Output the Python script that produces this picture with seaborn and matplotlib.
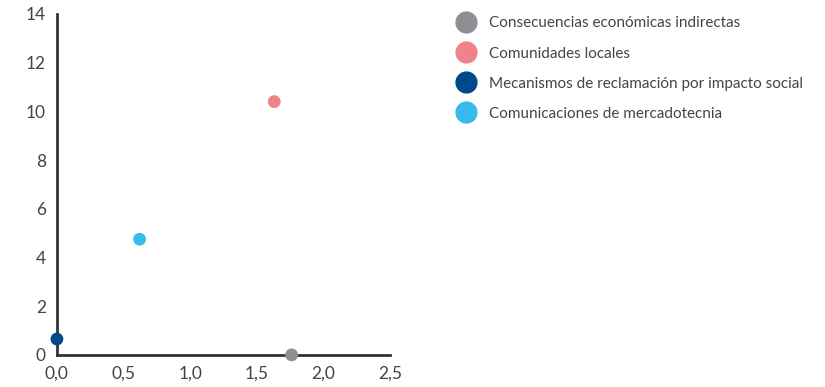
import pandas as pd
import matplotlib.pyplot as plt
import seaborn as sns

categories = [
    "Consecuencias económicas indirectas",
    "Comunidades locales",
    "Mecanismos de reclamación por impacto social",
    "Comunicaciones de mercadotecnia",
]
x_values = [1.76, 1.63, 0.0, 0.62]
y_values = [0.0, 10.4, 0.65, 4.75]
colors = ["#8e8e93", "#ee838a", "#004a8c", "#38bbec"]

df = pd.DataFrame({"cat": categories, "x": x_values, "y": y_values})

sns.set_style("white")
plt.rcParams["font.family"] = ["Lato", "DejaVu Sans"]

fig = plt.figure(figsize=(8.25, 3.87), dpi=100)
ax = fig.add_axes([0.069, 0.083, 0.404, 0.881])

sns.scatterplot(data=df, x="x", y="y", hue="cat", palette=colors, s=85,
                edgecolor="none", legend=False, clip_on=False, zorder=5, ax=ax)

ax.set_xlim(0, 2.5)
ax.set_ylim(0, 14)
ax.set_xticks([0, 0.5, 1.0, 1.5, 2.0, 2.5])
ax.set_xticklabels(["0,0", "0,5", "1,0", "1,5", "2,0", "2,5"])
ax.set_yticks(range(0, 15, 2))
ax.set_xlabel("")
ax.set_ylabel("")
for side in ["top", "right"]:
    ax.spines[side].set_visible(False)
for side in ["left", "bottom"]:
    ax.spines[side].set_color("#333333")
    ax.spines[side].set_linewidth(2)
ax.tick_params(axis="both", colors="#333333", labelcolor="#444444",
               labelsize=12.5, length=5, width=2, direction="out", pad=3)
for c in ax.collections:
    c.set_clip_on(False)

handles = [plt.Line2D([], [], marker="o", linestyle="", markersize=15,
                      markerfacecolor=col, markeredgecolor=col) for col in colors]
fig.legend(handles, categories, loc="upper left", bbox_to_anchor=(0.537, 0.993),
           frameon=False, fontsize=11, labelcolor="#444444",
           handletextpad=0.9, labelspacing=1.05, handlelength=1.2)

fig.savefig("out.png", dpi=100)
